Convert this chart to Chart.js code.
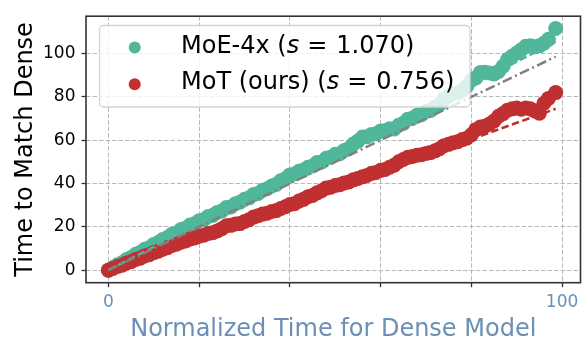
<!DOCTYPE html>
<html>
<head>
<meta charset="utf-8">
<script src="https://cdn.jsdelivr.net/npm/chart.js@4.4.0/dist/chart.umd.min.js"></script>
<style>
  html, body { margin: 0; padding: 0; background: #fff; }
  #wrap { width: 588px; height: 339px; }
</style>
</head>
<body>
<div id="wrap"><canvas id="timeChart" width="588" height="339"></canvas></div>
<script>
// normalized dense-model time (shared by both runs)
const denseTime = [
  0, 1, 2, 3, 4, 5, 6, 7, 8, 9, 10, 11, 12, 13, 14, 15, 16, 17, 18, 19,
  20, 21, 22, 23, 24, 25, 26, 27, 28, 29, 30, 31, 32, 33, 34, 35, 36, 37, 38, 39,
  40, 41, 42, 43, 44, 45, 46, 47, 48, 49, 50, 51, 52, 53, 54, 55, 56, 57, 58, 59,
  60, 61, 62, 63, 64, 65, 66, 67, 68, 69, 70, 71, 72, 73, 74, 75, 76, 77, 78, 79,
  80, 81, 82, 83, 84, 85, 86, 87, 88, 89, 90, 91, 92, 93, 94, 95, 96, 97, 98.6
];
// time each model needs to reach the dense loss
const moeTime = [
  0, 1.2, 2.5, 3.4, 4.9, 5.8, 7.3, 8.2, 9.6, 10.4, 11.9, 12.8, 14.2, 15.1, 16.6, 17.2, 18.8, 19.4, 20.8, 21.4,
  22.8, 23.3, 24.8, 25.3, 26.6, 27.3, 28.9, 29.2, 30.7, 31.4, 32.7, 33.4, 34.9, 35.4, 36.9, 37.6, 38.9, 39.6, 41.3, 42.2,
  44.0, 44.4, 45.7, 46.2, 47.5, 48.1, 49.7, 50.0, 51.7, 52.2, 53.5, 53.8, 55.3, 56.2, 58.3, 59.6, 61.5, 61.6, 62.7, 63.0,
  64.3, 64.4, 65.3, 65.2, 66.9, 67.8, 69.7, 70.2, 71.5, 71.8, 73.3, 73.8, 75.3, 76.6, 79.1, 80.4, 81.7, 81.8, 83.1, 84.8,
  87.7, 88.8, 91.3, 91.4, 91.1, 90.6, 91.8, 94.2, 97.3, 98.8, 100.3, 101.8, 103.4, 103.6, 103.2, 103.6, 104.8, 106.6, 111.6
];
const motTime = [
  0, 0.8, 1.7, 2.3, 3.3, 3.9, 4.9, 5.5, 6.5, 7.1, 8.1, 8.7, 9.7, 10.4, 11.4, 12.0, 12.9, 13.5, 14.4, 14.9,
  15.7, 16.1, 16.9, 17.3, 18.1, 19.1, 20.5, 20.7, 21.3, 21.5, 22.5, 23.3, 24.5, 25.1, 25.9, 26.3, 27.1, 27.5, 28.5, 29.3,
  30.3, 30.7, 31.9, 32.7, 33.9, 34.5, 35.7, 36.7, 37.9, 38.3, 39.1, 39.5, 40.3, 40.7, 41.7, 42.3, 43.1, 43.7, 44.7, 45.1,
  46.1, 46.5, 47.5, 48.5, 50.1, 51.1, 52.1, 52.5, 53.1, 53.3, 53.9, 54.3, 55.1, 56.1, 57.5, 58.1, 58.9, 59.3, 60.3, 60.9,
  62.5, 64.9, 66.1, 66.5, 67.5, 68.9, 71.1, 72.3, 73.9, 74.5, 74.9, 74.3, 74.9, 74.5, 73.5, 72.5, 77.1, 79.3, 82.0
];
const seriesNames = ['MoE-4x', 'MoT (ours)'];
const fitSlopes = [1.070, 0.756];
const xTicks = [0, 20, 40, 60, 80, 100];
const xTickLabels = ['0', '', '', '', '', '100'];
const yTicks = [0, 20, 40, 60, 80, 100];

const TEAL = '#50b79a';
const RED = '#c03030';
const AXIS_BLUE = '#6b8fb5';
const FONT = '"DejaVu Sans", sans-serif';

const toPoints = ys => denseTime.map((x, i) => ({ x, y: ys[i] }));
const lastX = denseTime[denseTime.length - 1];
const fitLine = slope => [{ x: 0, y: 0 }, { x: lastX, y: slope * lastX }];

// legend box, axis titles and frame drawn by hand
const decorations = {
  id: 'decorations',
  afterDatasetsDraw(chart) {
    const ctx = chart.ctx;
    ctx.save();
    ctx.beginPath();
    ctx.roundRect(99.5, 25.5, 370.5, 81.5, 4);
    ctx.fillStyle = 'rgba(255,255,255,0.8)';
    ctx.fill();
    ctx.strokeStyle = '#d4d4d4';
    ctx.lineWidth = 1.3;
    ctx.stroke();

    const rows = [
      { color: TEAL, name: seriesNames[0], s: fitSlopes[0], y: 53.3, my: 47.6 },
      { color: RED, name: seriesNames[1], s: fitSlopes[1], y: 88.6, my: 84.2 }
    ];
    rows.forEach(r => {
      ctx.beginPath();
      ctx.arc(134.7, r.my, 6, 0, Math.PI * 2);
      ctx.fillStyle = r.color;
      ctx.fill();
      ctx.fillStyle = '#000';
      ctx.textBaseline = 'alphabetic';
      ctx.textAlign = 'left';
      let x = 181;
      ctx.font = '24px ' + FONT;
      const head = r.name + ' (';
      ctx.fillText(head, x, r.y);
      x += ctx.measureText(head).width;
      ctx.font = 'italic 24px ' + FONT;
      ctx.fillText('s', x, r.y);
      x += ctx.measureText('s').width + 8;
      ctx.font = '24px ' + FONT;
      ctx.fillText('=', x, r.y);
      x += ctx.measureText('=').width + 9;
      ctx.fillText(r.s.toFixed(3) + ')', x, r.y);
    });
    ctx.restore();
  },
  afterDraw(chart) {
    const ctx = chart.ctx;
    const a = chart.chartArea;
    ctx.save();
    ctx.strokeStyle = '#333';
    ctx.lineWidth = 1.6;
    ctx.strokeRect(a.left, a.top, a.right - a.left, a.bottom - a.top);

    ctx.font = '24px ' + FONT;
    ctx.textAlign = 'center';
    ctx.textBaseline = 'alphabetic';
    ctx.fillStyle = AXIS_BLUE;
    ctx.fillText('Normalized Time for Dense Model', (a.left + a.right) / 2, 336);

    ctx.translate(31.5, (a.top + a.bottom) / 2);
    ctx.rotate(-Math.PI / 2);
    ctx.fillStyle = '#000';
    ctx.fillText('Time to Match Dense', 0, 0);
    ctx.restore();
  }
};

const pointSet = (label, ys, color, order) => ({
  label,
  data: toPoints(ys),
  backgroundColor: color,
  borderWidth: 0,
  pointRadius: 7.5,
  order
});

const lineSet = (data, color, dash, width) => ({
  data,
  showLine: true,
  borderColor: color,
  borderWidth: width,
  borderDash: dash,
  pointRadius: 0,
  fill: false,
  order: 0
});

new Chart(document.getElementById('timeChart'), {
  type: 'scatter',
  data: {
    datasets: [
      lineSet(fitLine(1), '#808080', [10, 3.5, 2, 3.5], 2.5),
      lineSet(fitLine(fitSlopes[0]), TEAL, [7.5, 3.5], 2.5),
      lineSet(fitLine(fitSlopes[1]), RED, [7.5, 3.5], 2.5),
      pointSet(seriesNames[1], motTime, RED, 1),
      pointSet(seriesNames[0], moeTime, TEAL, 2)
    ]
  },
  options: {
    responsive: false,
    animation: false,
    devicePixelRatio: 1,
    events: [],
    layout: { padding: { top: 12, right: 1, left: 0, bottom: 0 } },
    plugins: { legend: { display: false }, tooltip: { enabled: false } },
    scales: {
      x: {
        type: 'linear',
        min: -4.94,
        max: 104.07,
        afterBuildTicks: s => { s.ticks = xTicks.map(v => ({ value: v })); },
        afterFit: s => { s.height = 56.3; },
        ticks: {
          callback: (v, i) => xTickLabels[i],
          color: AXIS_BLUE,
          font: { family: FONT, size: 17 },
          padding: 5,
          maxRotation: 0,
          autoSkip: false
        },
        grid: { color: '#b8b8b8', lineWidth: 1, tickColor: '#333', tickWidth: 1.3, tickLength: 4.5 },
        border: { display: false, dash: [4.5, 2] }
      },
      y: {
        type: 'linear',
        min: -5.8,
        max: 117.3,
        afterBuildTicks: s => { s.ticks = yTicks.map(v => ({ value: v })); },
        afterFit: s => { s.width = 86; },
        ticks: {
          color: '#000',
          font: { family: FONT, size: 17 },
          padding: 6,
          autoSkip: false
        },
        grid: { color: '#b8b8b8', lineWidth: 1, tickColor: '#333', tickWidth: 1.3, tickLength: 4.5 },
        border: { display: false, dash: [4.5, 2] }
      }
    }
  },
  plugins: [decorations]
});
</script>
</body>
</html>
